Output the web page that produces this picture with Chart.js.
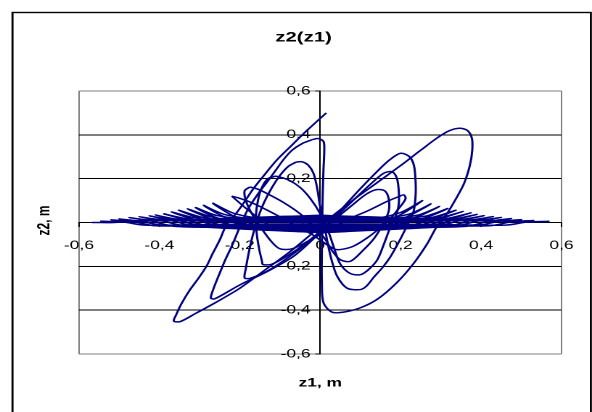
<!DOCTYPE html>
<html>
<head>
<meta charset="utf-8">
<script src="https://cdn.jsdelivr.net/npm/chart.js@4.4.1/dist/chart.umd.min.js"></script>
<style>
  html, body { margin: 0; padding: 0; background: #fff; overflow: hidden; }
  /* the source picture is stretched sideways, so the whole chart is drawn narrow and widened */
  #wrap { width: 408px; height: 412px; transform: scaleX(1.451); transform-origin: 0 0; }
</style>
</head>
<body>
<div id="wrap"><canvas id="chart" width="408" height="412" style="width:408px;height:412px"></canvas></div>
<script>
// z1 / z2 pairs, in the order the trajectory runs
const loop1 = [[0.015,0.50],[-0.033,0.42],[-0.075,0.345],[-0.108,0.285],[-0.142,0.21],[-0.168,0.15],[-0.19,0.09],[-0.212,0.035],[-0.233,-0.01],[-0.25,-0.08],[-0.267,-0.14],[-0.283,-0.2],[-0.305,-0.26],[-0.325,-0.31],[-0.345,-0.37],[-0.358,-0.42],[-0.364,-0.45],
  [-0.348,-0.452],[-0.31,-0.415],[-0.26,-0.365],[-0.2,-0.3],[-0.14,-0.22],[-0.08,-0.14],[-0.03,-0.065],[0.02,0.015],[0.08,0.1],[0.14,0.18],[0.2,0.26],[0.25,0.33],[0.29,0.385],[0.32,0.418],[0.346,0.43],[0.366,0.42],[0.377,0.385],[0.378,0.33],[0.372,0.26],[0.358,0.18],[0.338,0.11],[0.315,0.04],[0.29,-0.018],[0.267,-0.094],[0.233,-0.185],[0.19,-0.275],[0.142,-0.35],[0.1,-0.389],[0.058,-0.409],[0.029,-0.409],[0.008,-0.366],[0.004,-0.275],[0.004,-0.13],[0.005,0.0],[0.006,0.12],[0.008,0.24],[0.01,0.33],[0.008,0.37],[-0.005,0.383],[-0.02,0.378]]
const loop2 = [[-0.02,0.378],[-0.045,0.36],[-0.07,0.33],[-0.09,0.29],[-0.11,0.24],[-0.13,0.19],[-0.155,0.13],[-0.18,0.06],[-0.2,-0.02],[-0.218,-0.1],[-0.236,-0.17],[-0.252,-0.24],[-0.265,-0.3],[-0.272,-0.345],
  [-0.262,-0.348],[-0.2,-0.285],[-0.133,-0.225],[-0.067,-0.155],[-0.02,-0.08],[0.02,-0.005],[0.06,0.075],[0.1,0.155],[0.14,0.23],[0.172,0.285],[0.2,0.316],[0.222,0.3],[0.233,0.26],[0.237,0.19],[0.237,0.12],[0.232,0.05],[0.217,-0.01],[0.198,-0.08],[0.175,-0.155],[0.155,-0.205],[0.133,-0.25],[0.115,-0.29],[0.1,-0.306],[0.067,-0.3],[0.042,-0.245],[0.028,-0.17],[0.018,-0.09],[0.01,-0.01],[0.0,0.07],[-0.008,0.16],[-0.017,0.225],[-0.03,0.262],[-0.045,0.277],[-0.06,0.276]]
const loop3 = [[-0.06,0.276],[-0.08,0.255],[-0.1,0.215],[-0.12,0.16],[-0.14,0.09],[-0.155,0.02],[-0.168,-0.06],[-0.178,-0.14],[-0.185,-0.21],[-0.188,-0.253],
  [-0.175,-0.255],[-0.13,-0.22],[-0.08,-0.16],[-0.03,-0.09],[0.01,-0.025],[0.05,0.045],[0.09,0.115],[0.128,0.18],[0.158,0.225],[0.178,0.232],[0.19,0.205],[0.195,0.15],[0.195,0.08],[0.186,0.02],[0.175,-0.018],[0.158,-0.1],[0.142,-0.17],[0.12,-0.215],[0.1,-0.238],[0.075,-0.233],[0.05,-0.19],[0.035,-0.12],[0.02,-0.04],[0.0,0.04],[-0.025,0.11],[-0.05,0.16],[-0.08,0.195],[-0.11,0.212]]
const loop4 = [[-0.11,0.212],[-0.13,0.2],[-0.145,0.16],[-0.155,0.1],[-0.16,0.03],[-0.158,-0.05],[-0.152,-0.12],[-0.145,-0.175],[-0.142,-0.192],
  [-0.12,-0.19],[-0.08,-0.15],[-0.04,-0.1],[0.0,-0.04],[0.04,0.02],[0.08,0.08],[0.115,0.13],[0.14,0.15],[0.16,0.145],[0.17,0.11],[0.17,0.05],[0.155,-0.01],[0.135,-0.07],[0.108,-0.124],[0.075,-0.177],[0.05,-0.17],[0.03,-0.13],[0.01,-0.07],[-0.02,-0.01],[-0.05,0.04],[-0.09,0.09],[-0.13,0.13],[-0.155,0.152],[-0.175,0.162]]
const loop5 = [[-0.175,0.162],[-0.188,0.145],[-0.185,0.1],[-0.17,0.04],[-0.145,-0.03],[-0.12,-0.09],[-0.1,-0.12],
  [-0.07,-0.12],[-0.03,-0.085],[0.02,-0.035],[0.07,0.015],[0.12,0.055],[0.165,0.095],[0.195,0.118],[0.208,0.126],[0.212,0.108],[0.198,0.07],[0.175,0.02],[0.145,-0.03],[0.117,-0.07],[0.08,-0.11],[0.042,-0.124],[0.02,-0.105],[-0.02,-0.055],[-0.07,-0.005],[-0.12,0.045],[-0.17,0.09],[-0.205,0.113],[-0.22,0.12]]
// the long flat swings along z2 ~ 0, each ending in a thin spike
const sweepsA = [[-0.22,0.12],
  [-0.165,0.036],[-0.11,-0.025],[0,-0.045],[0.127,-0.025],[0.199,0.035],[0.254,0.1],
  [0.199,0.045],[0.127,0.018],[0,0.033],[-0.134,0.018],[-0.212,0.04],[-0.267,0.088],
  [-0.212,0.026],[-0.134,-0.023],[0,-0.041],[0.138,-0.023],[0.22,0.03],[0.275,0.085],
  [0.22,0.038],[0.138,0.016],[0,0.029],[-0.145,0.016],[-0.235,0.035],[-0.29,0.078],
  [-0.235,0.023],[-0.145,-0.021],[0,-0.037],[0.148,-0.021],[0.241,0.026],[0.296,0.073],
  [0.241,0.033],[0.148,0.014],[0,0.025],[-0.155,0.014],[-0.255,0.031],[-0.31,0.068],
  [-0.255,0.02],[-0.155,-0.02],[0,-0.033],[0.158,-0.02],[0.262,0.022],[0.317,0.064],
  [0.262,0.029],[0.158,0.013],[0,0.021],[-0.165,0.013],[-0.22,0.008],[-0.275,0.028],[-0.33,0.062],
  [-0.275,0.019],[-0.22,-0.012],[-0.165,-0.02],[0,-0.029],[0.169,-0.02],[0.228,-0.012],[0.283,0.02],[0.3375,0.056],
  [0.283,0.025],[0.228,0.008],[0.169,0.012],[0,0.017],[-0.176,0.012],[-0.242,0.008],[-0.297,0.025],[-0.352,0.056],
  [-0.297,0.017],[-0.242,-0.013],[-0.176,-0.019],[0,-0.025],[0.178,-0.019],[0.245,-0.013],[0.3,0.018],[0.355,0.05],
  [0.3,0.023],[0.245,0.009],[0.178,0.011],[0,0.013],[-0.185,0.011],[-0.26,0.009],[-0.315,0.022],[-0.37,0.048],
  [-0.315,0.014],[-0.26,-0.011],[-0.185,-0.016],[0,-0.021],[0.188,-0.016],[0.265,-0.011],[0.32,0.015],[0.375,0.044],
  [0.32,0.02],[0.265,0.007],[0.188,0.008],[0,0.009],[-0.195,0.008],[-0.28,0.007],[-0.335,0.018],[-0.39,0.04]]
const sweepsB = [[-0.39,0.04],
  [-0.335,0.012],[-0.28,-0.014],[-0.195,-0.016],[0,-0.017],[0.195,-0.016],[0.28,-0.014],[0.335,0.013],[0.39,0.037],
  [0.335,0.017],[0.28,0.01],[0.195,0.008],[0,0.005],[-0.205,0.008],[-0.3,0.01],[-0.355,0.015],[-0.41,0.034],
  [-0.355,0.01],[-0.3,-0.012],[-0.205,-0.013],[0,-0.013],[0.204,-0.013],[0.298,-0.012],[0.353,0.011],[0.4075,0.031],
  [0.353,0.014],[0.298,0.008],[0.204,0.005],[0,0.001],[-0.213,0.005],[-0.315,0.008],[-0.37,0.014],[-0.425,0.03],
  [-0.37,0.009],[-0.315,-0.016],[-0.213,-0.028],[0,-0.043],[0.215,-0.028],[0.32,-0.016],[0.375,0.009],[0.43,0.027],
  [0.375,0.012],[0.32,0.011],[0.215,0.02],[0,0.031],[-0.225,0.02],[-0.34,0.011],[-0.395,0.012],[-0.45,0.026],
  [-0.395,0.008],[-0.34,-0.014],[-0.225,-0.024],[0,-0.035],[0.225,-0.024],[0.34,-0.014],[0.395,0.008],[0.45,0.023],
  [0.395,0.01],[0.34,0.009],[0.225,0.015],[0,0.023],[-0.238,0.015],[-0.365,0.009],[-0.42,0.01],[-0.475,0.022],
  [-0.42,0.007],[-0.365,-0.017],[-0.238,-0.022],[0,-0.027],[0.238,-0.022],[0.365,-0.017],[0.42,0.006],[0.475,0.018],
  [0.42,0.008],[0.365,0.012],[0.238,0.013],[0,0.015],[-0.25,0.013],[-0.39,0.012],[-0.445,0.007],[-0.5,0.016],
  [-0.445,0.005],[-0.39,-0.013],[-0.25,-0.016],[0,-0.019],[0.25,-0.016],[0.39,-0.013],[0.445,0.005],[0.5,0.013],
  [0.445,0.006],[0.39,0.008],[0.25,0.008],[0,0.007],[-0.26,0.008],[-0.41,0.008],[-0.465,0.005],[-0.52,0.012],
  [-0.465,0.004],[-0.41,-0.015],[-0.26,-0.013],[0,-0.011],[0.265,-0.013],[0.42,-0.015],[0.475,0.003],[0.53,0.009],
  [0.475,0.004],[0.42,0.01],[0.265,0.006],[0,0.003],[-0.273,0.006],[-0.435,0.01],[-0.49,0.003],[-0.545,0.006],
  [-0.49,0.002],[-0.435,-0.012],[-0.273,-0.009],[0,-0.006],[0.285,-0.009],[0.46,-0.012],[0.515,0.002],[0.57,0.005],
  [0.515,0.002],[0.46,0.007],[0.285,0.009],[0,0.011],[-0.284,0.009],[-0.457,0.007],[-0.512,0.0],[-0.567,0.0]]

const tickValues = [-0.6, -0.4, -0.2, 0, 0.2, 0.4, 0.6]
const chartTitle = 'z2(z1)'
const xTitle = 'z1, m'
const yTitle = 'z2, m'

const FONT = 'Arial, "Liberation Sans", sans-serif'
const LINE = '#000080'

const fmt = v => String(Math.round(v * 10) / 10).replace('.', ',')
// a centred y axis puts its labels flush against the axis line and ignores padding,
// so two trailing spaces push them off the line as in the picture
const fmtY = v => fmt(v) + '  '

const segments = [loop1, loop2, loop3, loop4, loop5, sweepsA, sweepsB]

// white page, black frame round the chart, and the three titles
const framePlugin = {
  id: 'frame',
  beforeDraw(chart) {
    const ctx = chart.ctx
    ctx.save()
    ctx.fillStyle = '#fff'
    ctx.fillRect(0, 0, chart.width, chart.height)
    ctx.strokeStyle = '#000'
    ctx.lineWidth = 1.4
    ctx.strokeRect(8.6, 12.5, 398.6, 430)
    ctx.restore()
  },
  afterDraw(chart) {
    const ctx = chart.ctx
    const area = chart.chartArea
    const cx = chart.scales.x.getPixelForValue(0)
    ctx.save()
    ctx.fillStyle = '#000'
    ctx.textAlign = 'center'
    ctx.textBaseline = 'middle'
    ctx.font = `bold 14px ${FONT}`
    ctx.fillText(chartTitle, 209.2, 37.5)
    ctx.font = `bold 12px ${FONT}`
    ctx.fillText(xTitle, cx, area.bottom + 29)
    ctx.translate(30.5, (area.top + area.bottom) / 2 - 2)
    ctx.rotate(-Math.PI / 2)
    ctx.fillText(yTitle, 0, 0)
    ctx.restore()
  }
}

new Chart(document.getElementById('chart'), {
  type: 'scatter',
  data: {
    datasets: segments.map(seg => ({
      data: seg.map(p => ({x: p[0], y: p[1]})),
      showLine: true,
      borderColor: LINE,
      borderWidth: 1.5,
      pointRadius: 0,
      tension: 0.3,
      fill: false
    }))
  },
  options: {
    responsive: false,
    devicePixelRatio: 2,
    animation: false,
    layout: {padding: {left: 54.4, right: 21, top: 91, bottom: 58}},
    plugins: {legend: {display: false}, tooltip: {enabled: false}, title: {display: false}},
    scales: {
      x: {
        type: 'linear',
        min: -0.6,
        max: 0.6,
        position: {y: 0},
        z: 1,
        afterBuildTicks: s => { s.ticks = tickValues.map(v => ({value: v})) },
        ticks: {callback: fmt, color: '#000', font: {family: FONT, size: 12}, padding: 12, maxRotation: 0, autoSkip: false},
        grid: {
          color: c => (c.tick && Math.abs(c.tick.value) > 0.59 ? '#808080' : 'rgba(0,0,0,0)'),
          tickColor: '#000',
          tickLength: 4,
          lineWidth: 1
        },
        border: {color: '#000', width: 1}
      },
      y: {
        type: 'linear',
        min: -0.6,
        max: 0.6,
        position: {x: 0},
        z: 1,
        afterBuildTicks: s => { s.ticks = tickValues.map(v => ({value: v})) },
        ticks: {callback: fmtY, color: '#000', font: {family: FONT, size: 12}, autoSkip: false},
        grid: {
          color: c => (c.tick && Math.abs(c.tick.value) > 0.59 ? '#808080' : '#000'),
          tickColor: '#000',
          tickLength: 2.8,
          lineWidth: 1
        },
        border: {color: '#000', width: 1}
      }
    }
  },
  plugins: [framePlugin]
})
</script>
</body>
</html>
